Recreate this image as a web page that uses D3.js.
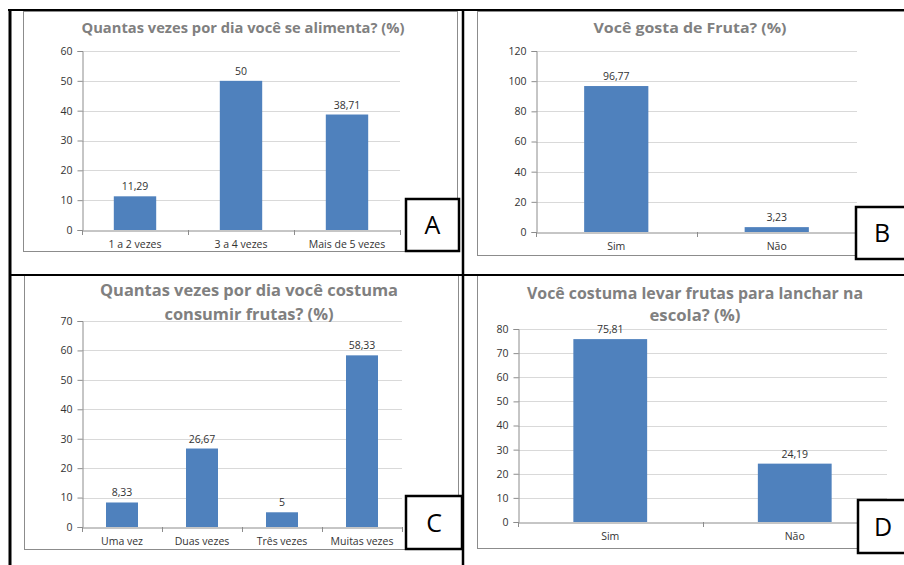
<!DOCTYPE html>
<html><head><meta charset="utf-8">
<script src="https://cdn.jsdelivr.net/npm/d3@7"></script>
<style>
html,body{margin:0;padding:0;background:#fff;}
svg{display:block;}
</style></head>
<body>
<svg id="c" width="904" height="565"></svg>
<script>
// ---------- data ----------
const titleA = ["Quantas vezes por dia você se alimenta? (%)"];
const catsA = ["1 a 2 vezes", "3 a 4 vezes", "Mais de 5 vezes"];
const valsA = [11.29, 50, 38.71];
const ticksA = [0, 10, 20, 30, 40, 50, 60];

const titleB = ["Você gosta de Fruta? (%)"];
const catsB = ["Sim", "Não"];
const valsB = [96.77, 3.23];
const ticksB = [0, 20, 40, 60, 80, 100, 120];

const titleC = ["Quantas vezes por dia você costuma", "consumir frutas? (%)"];
const catsC = ["Uma vez", "Duas vezes", "Três vezes", "Muitas vezes"];
const valsC = [8.33, 26.67, 5, 58.33];
const ticksC = [0, 10, 20, 30, 40, 50, 60, 70];

const titleD = ["Você costuma levar frutas para lanchar na", "escola? (%)"];
const catsD = ["Sim", "Não"];
const valsD = [75.81, 24.19];
const ticksD = [0, 10, 20, 30, 40, 50, 60, 70, 80];

const panelLetters = ["A", "B", "C", "D"];

// ---------- drawing ----------
const locale = d3.formatLocale({decimal: ",", thousands: ".", grouping: [3], currency: ["R$", ""]});
const fmt = locale.format(".2~f");
const svg = d3.select("#c");
const FONT = "'Open Sans', 'Noto Sans', sans-serif";
const SMALL = "10.5px";

function drawChart(cfg) {
  const g = svg.append("g");
  // frame
  g.append("rect").attr("x", cfg.frame[0] + 0.5).attr("y", cfg.frame[1] + 0.5)
    .attr("width", cfg.frame[2]).attr("height", cfg.frame[3])
    .attr("fill", "#fff").attr("stroke", "#8c8c8c").attr("stroke-width", 1);

  const x = d3.scaleBand().domain(cfg.cats).range([cfg.plot[0], cfg.plot[1]]).paddingInner(0.6).paddingOuter(0.3);
  const xb = d3.scaleBand().domain(cfg.cats).range([cfg.plot[0], cfg.plot[1]]);
  const y = d3.scaleLinear().domain([0, d3.max(cfg.ticks)]).range([cfg.plot[2], cfg.plot[3]]);

  // gridlines
  g.append("g").selectAll("line").data(cfg.ticks.filter(t => t > 0)).join("line")
    .attr("x1", cfg.plot[0]).attr("x2", cfg.plot[1])
    .attr("y1", d => Math.round(y(d)) + 0.5).attr("y2", d => Math.round(y(d)) + 0.5)
    .attr("stroke", "#d9d9d9").attr("stroke-width", 1);

  // y axis
  const ya = g.append("g").attr("transform", `translate(${cfg.plot[0] + 0.5},0)`)
    .call(d3.axisLeft(y).tickValues(cfg.ticks).tickSize(5).tickPadding(5).tickFormat(d3.format("d")));
  ya.select(".domain").attr("stroke", "#8c8c8c");
  ya.selectAll(".tick line").attr("stroke", "#8c8c8c");
  ya.selectAll(".tick text").attr("fill", "#333").style("font-family", FONT).style("font-size", SMALL);

  // x axis
  const xa = g.append("g").attr("transform", `translate(0,${Math.round(cfg.plot[2]) + 0.5})`)
    .call(d3.axisBottom(xb).tickSize(0).tickPadding(cfg.labPad));
  xa.select(".domain").attr("stroke", "#8c8c8c");
  xa.selectAll(".tick text").attr("fill", "#333").style("font-family", FONT).style("font-size", SMALL);
  // boundary ticks
  const bounds = cfg.cats.map(c => xb(c)).concat([cfg.plot[1]]);
  g.append("g").selectAll("line").data(bounds).join("line")
    .attr("x1", d => Math.round(d) + 0.5).attr("x2", d => Math.round(d) + 0.5)
    .attr("y1", Math.round(cfg.plot[2])).attr("y2", Math.round(cfg.plot[2]) + 5)
    .attr("stroke", "#8c8c8c");

  // bars
  const data = cfg.cats.map((c, i) => ({c, v: cfg.vals[i]}));
  g.append("g").selectAll("rect").data(data).join("rect")
    .attr("x", d => x(d.c)).attr("width", x.bandwidth())
    .attr("y", d => y(d.v)).attr("height", d => y(0) - y(d.v))
    .attr("fill", "#4f81bd");

  // value labels
  g.append("g").selectAll("text").data(data).join("text")
    .attr("x", d => x(d.c) + x.bandwidth() / 2).attr("y", d => y(d.v) - 6)
    .attr("text-anchor", "middle").attr("fill", "#333")
    .style("font-family", FONT).style("font-size", SMALL)
    .text(d => fmt(d.v));

  // title
  cfg.title.forEach((t, i) => {
    g.append("text").attr("x", cfg.tx).attr("y", cfg.ty[i]).attr("text-anchor", "middle")
      .attr("fill", "#808080").style("font-family", FONT).style("font-weight", "bold")
      .style("font-size", cfg.tsize + "px")
      .attr("textLength", cfg.tw[i]).attr("lengthAdjust", "spacingAndGlyphs")
      .text(t);
  });
}

drawChart({frame: [23, 11, 434, 240], plot: [82, 400, 230, 51], cats: catsA, vals: valsA, ticks: ticksA,
  title: titleA, tx: 243, ty: [33], tw: [323], tsize: 14, labPad: 10});
drawChart({frame: [477, 11, 440, 244], plot: [536, 857, 232, 51], cats: catsB, vals: valsB, ticks: ticksB,
  title: titleB, tx: 690, ty: [33], tw: [193], tsize: 14, labPad: 10});
drawChart({frame: [24, 275, 434, 274], plot: [82, 402, 527, 321], cats: catsC, vals: valsC, ticks: ticksC,
  title: titleC, tx: 249, ty: [296, 320], tw: [298, 169], tsize: 16, labPad: 10});
drawChart({frame: [477, 275, 440, 273], plot: [518, 887, 522, 329], cats: catsD, vals: valsD, ticks: ticksD,
  title: titleD, tx: 695, ty: [299, 321], tw: [336, 91], tsize: 16, labPad: 10});

// table borders
const lines = [
  [8, 10, 904, 10, 2],
  [10, 10, 10, 565, 3],
  [463, 10, 463, 565, 2.5],
  [10, 275, 904, 275, 2]
];
svg.append("g").selectAll("line").data(lines).join("line")
  .attr("x1", d => d[0]).attr("y1", d => d[1]).attr("x2", d => d[2]).attr("y2", d => d[3])
  .attr("stroke", "#000").attr("stroke-width", d => d[4]);

// letter boxes
const boxes = [[406, 199, 53, 52], [856, 207, 52, 52], [406, 496, 56, 53], [858, 500, 50, 53]];
const lb = svg.append("g").selectAll("g").data(boxes).join("g");
lb.append("rect").attr("x", d => d[0]).attr("y", d => d[1]).attr("width", d => d[2]).attr("height", d => d[3])
  .attr("fill", "#fff").attr("stroke", "#000").attr("stroke-width", 2.5);
lb.append("text").attr("x", d => d[0] + d[2] / 2).attr("y", d => d[1] + d[3] / 2 + 9)
  .attr("text-anchor", "middle").attr("fill", "#000")
  .style("font-family", FONT).style("font-size", "25px")
  .text((d, i) => panelLetters[i]);
</script>
</body></html>
